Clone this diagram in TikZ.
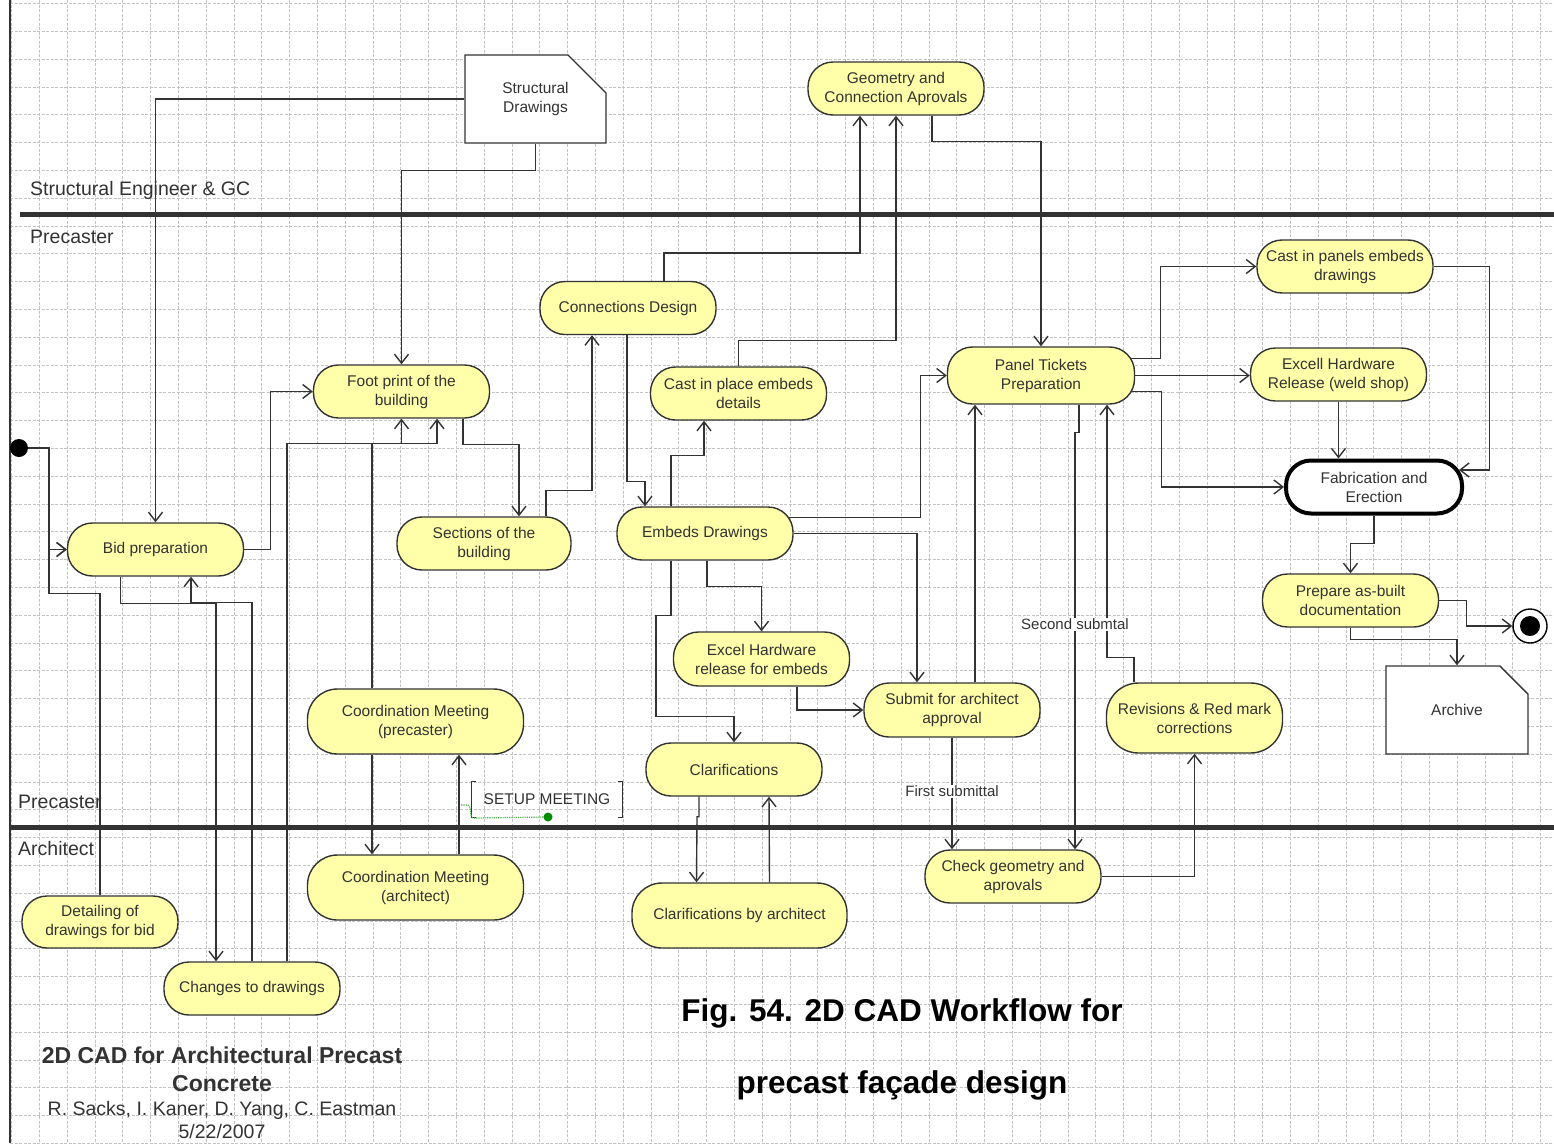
\documentclass[tikz,border=0pt]{standalone}
\usepackage{fontspec}
\setmainfont{Liberation Sans}
\usepackage{xcolor}
\usepackage{tikz}
\usetikzlibrary{arrows.meta,calc,shapes.misc}

\definecolor{actfill}{RGB}{255,255,170}
\definecolor{linegray}{RGB}{51,51,51}
\definecolor{gridgray}{RGB}{195,195,195}
\definecolor{notegreen}{RGB}{0,140,0}

\begin{document}
\begin{tikzpicture}[
  x=1pt, y=-1pt,
  font=\fontsize{15.5}{19}\selectfont,
  >={Straight Barb[length=9pt,width=14pt]},
  act/.style={draw=linegray, rectangle, rounded corners=25pt, fill=actfill, line width=1.4pt, minimum width=176pt, minimum height=53pt, align=center, text=linegray, inner sep=1pt},
  bigact/.style={act, rounded corners=30pt, minimum width=216pt, minimum height=65pt},
  doc/.style={draw=linegray, fill=white, chamfered rectangle, chamfered rectangle corners=north east, chamfered rectangle xsep=19pt, chamfered rectangle ysep=19pt, line width=1.4pt, minimum width=141pt, minimum height=88pt, align=center, text=linegray},
  flow/.style={->, line width=1.4pt, draw=linegray},
  lane/.style={line width=5pt, draw=linegray},
  lanelabel/.style={anchor=west, inner sep=0pt, font=\fontsize{19.5}{23}\selectfont, text=linegray},
  lbl/.style={fill=white, inner sep=1pt, font=\fontsize{15}{18}\selectfont, text=linegray},
  gridline/.style={gridgray, line width=0.8pt, dash pattern=on 3pt off 1.5pt},
]
\useasboundingbox (0,0) rectangle (1554,1143);
\fill[white] (0,0) rectangle (1554,1143);

% grid
\foreach \gx in {0,...,55}
  \draw[gridline] ({11.5+27.8*\gx},0) -- ({11.5+27.8*\gx},1143);
\foreach \gy in {0,...,41}
  \draw[gridline] (10,{3.6+27.8*\gy}) -- (1554,{3.6+27.8*\gy});

% swimlanes
\draw[linegray, line width=2.5pt] (10,0) -- (10,1143);
\draw[lane] (20,214) -- (1554,214);
\draw[lane] (10,827) -- (1554,827);
\node[lanelabel] (laneseg) at (30,190) {Structural Engineer \& GC};
\node[lanelabel] (lanepre) at (30,237) {Precaster};
\node[lanelabel] (lanepretwo) at (18,802) {Precaster};
\node[lanelabel] (lanearch) at (18,849) {Architect};

% activities
\node[act] (geo) at (896,88.5) {Geometry and\\Connection Aprovals};
\node[doc] (sdraw) at (535.5,99) {Structural\\Drawings};
\node[act] (conn) at (628,308) {Connections Design};
\node[act] (foot) at (401.5,391.5) {Foot print of the\\building};
\node[act] (cip) at (738.5,393.5) {Cast in place embeds\\details};
\node[act, minimum width=187pt, minimum height=57pt] (panel) at (1041,375.5) {Panel Tickets\\Preparation};
\node[act] (cipan) at (1345,266.5) {Cast in panels embeds\\drawings};
\node[act] (xweld) at (1338.5,374.5) {Excell Hardware\\Release (weld shop)};
\node[act, fill=white, draw=black, line width=4pt] (fab) at (1374,487) {Fabrication and\\Erection};
\node[act] (asbuilt) at (1350.5,600.5) {Prepare as-built\\documentation};
\node[draw=black, fill=white, circle, line width=1.4pt, minimum size=34pt, inner sep=0pt] (final) at (1530,626) {};
\fill[black] (final.center) circle (10pt);
\node[doc, minimum width=142pt] (archive) at (1457,710) {Archive};
\node[act] (bid) at (155.5,549.5) {Bid preparation};
\node[act, minimum width=174pt] (sect) at (484,543.5) {Sections of the\\building};
\node[act] (embeds) at (705,533.5) {Embeds Drawings};
\node[act, minimum height=54pt] (xemb) at (761.5,659) {Excel Hardware\\release for embeds};
\node[act, minimum height=54pt] (submit) at (952,710) {Submit for architect\\approval};
\node[act, rounded corners=32pt, minimum height=70pt] (revis) at (1194.5,718) {Revisions \& Red mark\\corrections};
\node[bigact] (cmp) at (415.5,721.5) {Coordination Meeting\\(precaster)};
\node[act] (clar) at (734,769.5) {Clarifications};
\node[bigact] (cma) at (415.5,887.5) {Coordination Meeting\\(architect)};
\node[bigact, minimum width=215pt] (clarch) at (739.5,915.5) {Clarifications by architect};
\node[act] (check) at (1013,876.5) {Check geometry and\\aprovals};
\node[act, minimum width=156pt, minimum height=52pt] (detail) at (100,922) {Detailing of\\drawings for bid};
\node[act] (changes) at (252,988.5) {Changes to drawings};
\node[circle, fill=black, minimum size=18pt, inner sep=0pt] (start) at (19,448) {};

% setup meeting note
\node[minimum width=150pt, minimum height=35pt, inner sep=0pt, text=linegray] (setup) at (547,799.5) {SETUP MEETING};
\draw[linegray, line width=1.2pt] ([xshift=4pt]setup.north west) -- (setup.north west) -- (setup.south west) -- ([xshift=4pt]setup.south west);
\draw[linegray, line width=1.2pt] ([xshift=-4pt]setup.north east) -- (setup.north east) -- (setup.south east) -- ([xshift=-4pt]setup.south east);
\coordinate (setupfoot) at (459,805);
\coordinate (setupdot) at (548,817);
\draw[notegreen!70, line width=1.2pt, densely dotted] (setupfoot) -- ++(8,0) to[out=0,in=180] ++(7,13) -- (setupdot);
\fill[notegreen] (setupdot) circle (4.5pt);

% flows
\draw[flow] (start.east) -| ([xshift=-18pt]bid.west) -- (bid.west);
\draw[flow] (detail.north) -- ++(0,-302) -| ([xshift=-18pt]bid.west) -- (bid.west);
\draw[flow] (sdraw.west) -| (bid.north);
\draw[flow] (sdraw.south) -- ++(0,27) -| (foot.north);
\draw[flow] (bid.east) -- ++(26,0) |- (foot.west);
\draw[flow] ([xshift=-35pt]bid.south) -- ++(0,27) -| ([xshift=-36pt]changes.north);
\draw[flow] (changes.north) -- ++(0,-359) -| ([xshift=35.5pt]bid.south);
\draw[flow] ([xshift=35pt]changes.north) -- ++(0,-518) -| ([xshift=35.5pt]foot.south);
\draw[flow] ([xshift=-43.5pt]cmp.north) -- ++(0,-245) -| (foot.south);
\draw[flow] ([xshift=61.5pt]foot.south) -- ++(0,26) -| ([xshift=35pt]sect.north);
\draw[flow] ([xshift=62pt]sect.north) -- ++(0,-26) -| ([xshift=-36pt]conn.south);
\draw[flow] ([xshift=36pt]conn.north) -- ++(0,-28) -| ([xshift=-36pt]geo.south);
\draw[flow] (cip.north) -- ++(0,-26) -| (geo.south);
\draw[flow] ([xshift=36pt]geo.south) -- ++(0,26) -| (panel.north);
\draw[flow] ([xshift=-1pt]conn.south) -- ++(0,146) -| ([xshift=-60pt]embeds.north);
\draw[flow] ([xshift=-34pt]embeds.north) -- ++(0,-51) -| ([xshift=-34.5pt]cip.south);
\draw[flow] ([xshift=-5pt,yshift=16pt]embeds.east) -- ++(132,0) |- (panel.west);
\draw[flow] (embeds.east) -| ([xshift=-35pt]submit.north);
\draw[flow] ([xshift=2pt]embeds.south) -- ++(0,26) -| (xemb.north);
\draw[flow] ([xshift=-34pt]embeds.south) -- ++(0,55) -- ++(-15,0) -- ++(0,101) -| (clar.north);
\draw[flow] ([xshift=35.5pt]xemb.south) |- (submit.west);
\draw[flow] (submit.south) -- node[lbl, pos=0.48] (firstsub) {First submittal} (submit.south |- check.north);
\draw[flow] ([xshift=23pt]submit.north) -- ([xshift=-66pt]panel.south);
\draw[flow] ([xshift=-60.5pt]revis.north) -- ++(0,-25) -| ([xshift=66pt]panel.south);
\draw[flow] ([xshift=38pt]panel.south) -- ++(0,28) -- ++(-4,0) -- node[lbl, pos=0.46] (secsub) {Second submtal} ([xshift=62pt]check.north);
\draw[flow] (check.east) -| (revis.south);
\draw[flow] ([xshift=-4pt,yshift=17pt]panel.east) -- ++(29,0) |- (cipan.west);
\draw[flow] (panel.east) -- (panel.east -| xweld.west);
\draw[flow] ([xshift=-4pt,yshift=-16pt]panel.east) -- ++(30,0) |- (fab.west);
\draw[flow] (xweld.south) -- (xweld.south |- fab.north);
\draw[flow] (cipan.east) -- ++(56,0) |- ([xshift=-5pt,yshift=17pt]fab.east);
\draw[flow] (fab.south) -- ++(0,28) -| (asbuilt.north);
\draw[flow] (asbuilt.east) -- ++(27,0) |- (final.west);
\draw[flow] (asbuilt.south) -- ++(0,12) -| (archive.north);
\draw[flow] ([xshift=-43.5pt]cmp.south) -- ([xshift=-43.5pt]cma.north);
\draw[flow] ([xshift=43.5pt]cma.north) -- ([xshift=43.5pt]cmp.south);
\draw[flow] ([xshift=-35pt]clar.south) -- ++(0,20) -- ++(-2,0) -- ([xshift=-43pt]clarch.north);
\draw[flow] ([xshift=30pt]clarch.north) -- ([xshift=35pt]clar.south);

% titles
\node[font=\fontsize{31.5}{38}\selectfont\bfseries, text=black] (figa) at (902,1013) {Fig. 54. 2D CAD Workflow for};
\node[font=\fontsize{31.5}{38}\selectfont\bfseries, text=black] (figb) at (902,1085) {precast façade design};
\node[font=\fontsize{23}{28}\selectfont\bfseries, text=linegray, align=center] (ttl) at (222,1069) {2D CAD for Architectural Precast\\Concrete};
\node[font=\fontsize{19.5}{23}\selectfont, text=linegray, align=center] (auth) at (222,1120.5) {R. Sacks, I. Kaner, D. Yang, C. Eastman\\5/22/2007};
\end{tikzpicture}
\end{document}
